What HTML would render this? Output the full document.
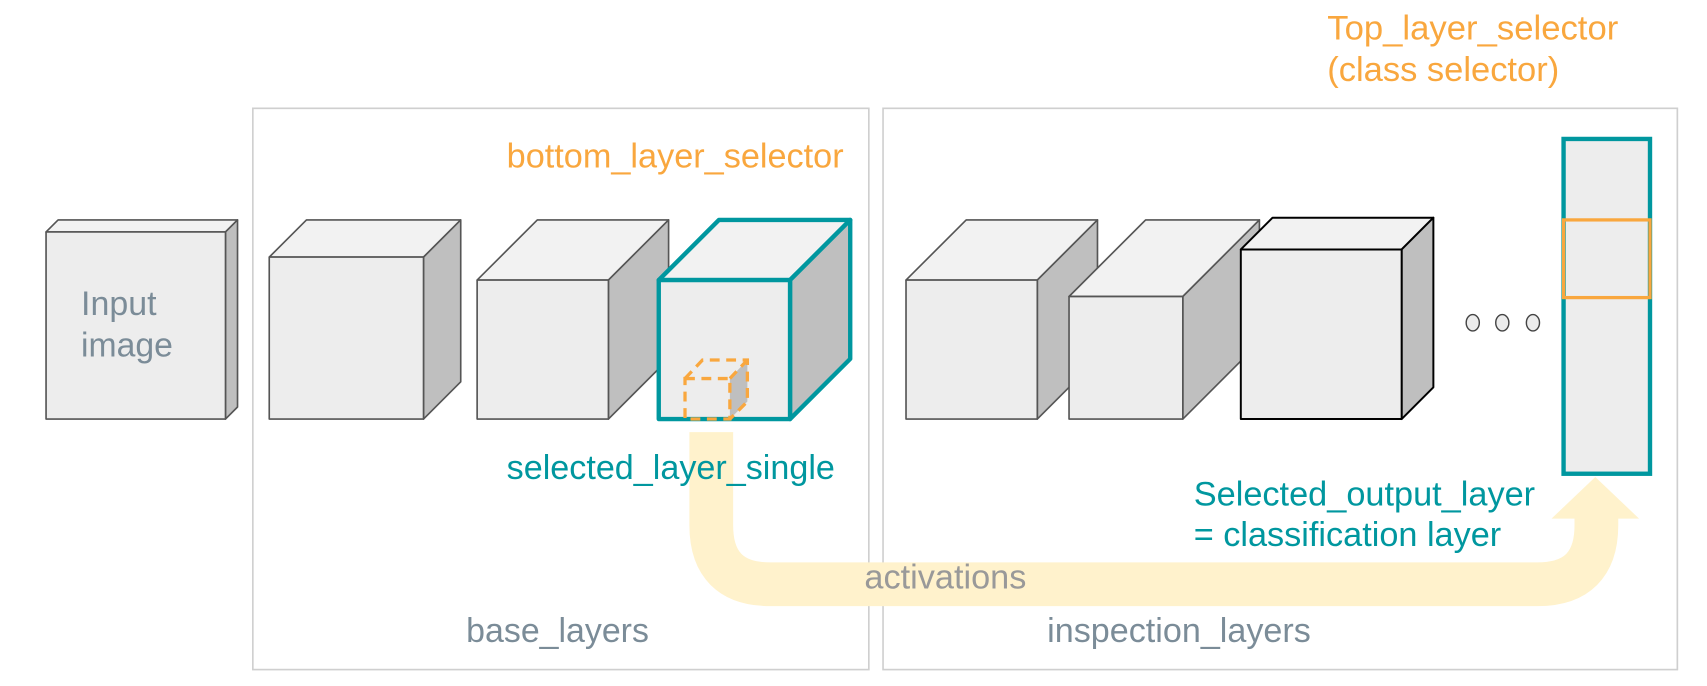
<!DOCTYPE html>
<html><head><meta charset="utf-8"><style>html,body{margin:0;padding:0;background:#fff}svg{display:block}</style></head>
<body>
<svg width="1707" height="686" viewBox="0 0 1560 627" xmlns="http://www.w3.org/2000/svg" font-family="Liberation Sans, sans-serif">
<rect x="231" y="99" width="563" height="513" fill="none" stroke="#cfcfcf" stroke-width="1.5"/>
<rect x="807" y="99" width="726" height="513" fill="none" stroke="#cfcfcf" stroke-width="1.5"/>
<!-- arrow -->
<path d="M650 395 V480 Q650 534 704 534 H1405 Q1459 534 1459 480 V472" fill="none" stroke="#fff2cc" stroke-width="40"/>
<polygon points="1418,474 1498,474 1458,436" fill="#fff2cc"/>
<g stroke="#555" stroke-width="1.5" stroke-linejoin="round">
<polygon points="42,212 53,201 217,201 206,212" fill="#f2f2f2"/>
<polygon points="206,212 217,201 217,372 206,383" fill="#bfbfbf"/>
<rect x="42" y="212" width="164" height="171" fill="#ededed"/>
<polygon points="246,235 280,201 421,201 387,235" fill="#f2f2f2"/>
<polygon points="387,235 421,201 421,349 387,383" fill="#bfbfbf"/>
<rect x="246" y="235" width="141" height="148" fill="#ededed"/>
<polygon points="436,256 491,201 611,201 556,256" fill="#f2f2f2"/>
<polygon points="556,256 611,201 611,328 556,383" fill="#bfbfbf"/>
<rect x="436" y="256" width="120" height="127" fill="#ededed"/>
<polygon points="828,256 883,201 1003,201 948,256" fill="#f2f2f2"/>
<polygon points="948,256 1003,201 1003,328 948,383" fill="#bfbfbf"/>
<rect x="828" y="256" width="120" height="127" fill="#ededed"/>
<polygon points="977,271 1047,201 1151,201 1081,271" fill="#f2f2f2"/>
<polygon points="1081,271 1151,201 1151,313 1081,383" fill="#bfbfbf"/>
<rect x="977" y="271" width="104" height="112" fill="#ededed"/>
</g>
<g stroke="#000" stroke-width="1.8" stroke-linejoin="round">
<polygon points="1134,228 1163,199 1310,199 1281,228" fill="#f2f2f2"/>
<polygon points="1281,228 1310,199 1310,354 1281,383" fill="#bfbfbf"/>
<rect x="1134" y="228" width="147" height="155" fill="#ededed"/>
</g>
<g stroke="#00979f" stroke-width="4" stroke-linejoin="round">
<polygon points="602,256 657,201 777,201 722,256" fill="#f2f2f2"/>
<polygon points="722,256 777,201 777,328 722,383" fill="#bfbfbf"/>
<rect x="602" y="256" width="120" height="127" fill="#ededed"/>
</g>
<polygon points="667,346 683,329 683,367 667,383" fill="#bfbfbf"/>
<g fill="none" stroke="#f9a73e" stroke-width="3" stroke-dasharray="9,6">
<rect x="626" y="346" width="41" height="37"/>
<polyline points="626,346 642,329 683,329 683,367 667,383"/>
<line x1="667" y1="346" x2="683" y2="329"/>
</g>
<g fill="#ececec" stroke="#444" stroke-width="1.3">
<ellipse cx="1346" cy="295" rx="6" ry="7.5"/>
<ellipse cx="1373" cy="295" rx="6" ry="7.5"/>
<ellipse cx="1401" cy="295" rx="6" ry="7.5"/>
</g>
<rect x="1429" y="127" width="79" height="306" fill="#ededed" stroke="#00979f" stroke-width="4"/>
<rect x="1429" y="201" width="79" height="71" fill="none" stroke="#f9a73e" stroke-width="3"/>
<g font-size="31" lengthAdjust="spacingAndGlyphs">
<text x="74" y="288" fill="#7b8c98" textLength="69" lengthAdjust="spacingAndGlyphs">Input</text>
<text x="74" y="326" fill="#7b8c98" textLength="84" lengthAdjust="spacingAndGlyphs">image</text>
<text x="463" y="153" fill="#f9a73e" textLength="308" lengthAdjust="spacingAndGlyphs">bottom_layer_selector</text>
<text x="463" y="438" fill="#00979f" textLength="300" lengthAdjust="spacingAndGlyphs">selected_layer_single</text>
<text x="426" y="587" fill="#7b8c98" textLength="167" lengthAdjust="spacingAndGlyphs">base_layers</text>
<text x="957" y="587" fill="#7b8c98" textLength="241" lengthAdjust="spacingAndGlyphs">inspection_layers</text>
<text x="790" y="538" fill="#999" textLength="148" lengthAdjust="spacingAndGlyphs">activations</text>
<text x="1091" y="462" fill="#00979f" textLength="312" lengthAdjust="spacingAndGlyphs">Selected_output_layer</text>
<text x="1091" y="499" fill="#00979f" textLength="281" lengthAdjust="spacingAndGlyphs">= classification layer</text>
<text x="1213" y="36" fill="#f9a73e" textLength="266" lengthAdjust="spacingAndGlyphs">Top_layer_selector</text>
<text x="1213" y="74" fill="#f9a73e" textLength="212" lengthAdjust="spacingAndGlyphs">(class selector)</text>
</g>
</svg>
</body></html>
